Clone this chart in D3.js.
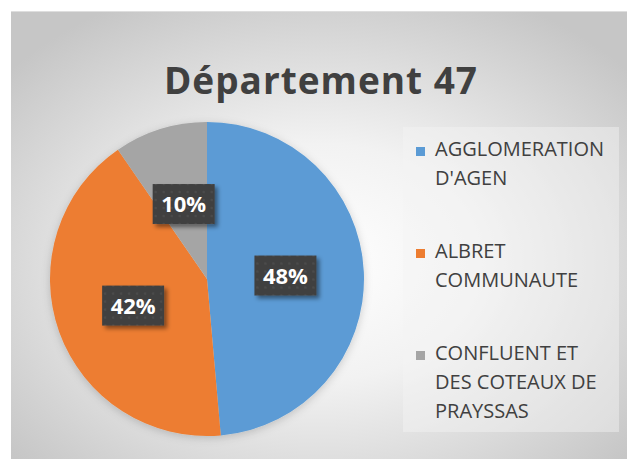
<!DOCTYPE html>
<meta charset="utf-8">
<head>
<style>
  body { margin: 0; background: #fff; }
  svg { display: block; }
</style>
</head>
<body>
<script src="https://d3js.org/d3.v7.min.js"></script>
<script>
// data
var categories = ["AGGLOMERATION D'AGEN", "ALBRET COMMUNAUTE", "CONFLUENT ET DES COTEAUX DE PRAYSSAS"];
var legendLines = [["AGGLOMERATION", "D'AGEN"], ["ALBRET", "COMMUNAUTE"], ["CONFLUENT ET", "DES COTEAUX DE", "PRAYSSAS"]];
var values = [48.6, 41.8, 9.6];
var labels = ["48%", "42%", "10%"];
var colors = ["#5B9BD5", "#ED7D31", "#A5A5A5"];
var title = "Département 47";

var W = 627, H = 459;
var svg = d3.select("body").append("svg").attr("width", W).attr("height", H);
var defs = svg.append("defs");

var bg = defs.append("radialGradient").attr("id", "bg")
  .attr("cx", "50%").attr("cy", "56%").attr("r", "66%");
bg.append("stop").attr("offset", "0%").attr("stop-color", "#ffffff");
bg.append("stop").attr("offset", "40%").attr("stop-color", "#f2f2f2");
bg.append("stop").attr("offset", "100%").attr("stop-color", "#c6c6c6");

var pat = defs.append("pattern").attr("id", "dots")
  .attr("width", 8).attr("height", 8).attr("patternUnits", "userSpaceOnUse");
pat.append("rect").attr("width", 8).attr("height", 8).attr("fill", "#404040");
pat.append("circle").attr("cx", 4).attr("cy", 4).attr("r", 1.3).attr("fill", "#4c4c4c");

var sh = defs.append("filter").attr("id", "shadow").attr("x", "-30%").attr("y", "-30%").attr("width", "160%").attr("height", "160%");
sh.append("feDropShadow").attr("dx", 3).attr("dy", 3).attr("stdDeviation", 2)
  .attr("flood-color", "#000").attr("flood-opacity", 0.45);

var psh = defs.append("filter").attr("id", "pieshadow").attr("x", "-20%").attr("y", "-20%").attr("width", "140%").attr("height", "140%");
psh.append("feDropShadow").attr("dx", 0).attr("dy", 2).attr("stdDeviation", 4)
  .attr("flood-color", "#000").attr("flood-opacity", 0.18);

// chart area
svg.append("rect").attr("x", 11).attr("y", 11).attr("width", W - 11).attr("height", H - 11)
  .attr("fill", "url(#bg)");
svg.append("line").attr("x1", 11).attr("x2", W).attr("y1", 11.5).attr("y2", 11.5)
  .attr("stroke", "#dedede");

var tt = svg.append("text").attr("x", 321).attr("y", 94)
  .attr("text-anchor", "middle")
  .attr("font-family", "'Open Sans', sans-serif")
  .attr("font-weight", "bold")
  .attr("font-size", 37)
  .attr("fill", "#404040")
  .text(title);
// spread the title to the width it has in the picture
var tw = tt.node().getComputedTextLength();
tt.attr("letter-spacing", Math.max(0, (314 - tw) / title.length));

// pie
var cx = 207, cy = 279, r = 157;
var pie = d3.pie().sort(null)(values);
var arc = d3.arc().innerRadius(0).outerRadius(r);
var g = svg.append("g").attr("transform", "translate(" + cx + "," + cy + ")");

g.append("g").attr("filter", "url(#pieshadow)")
  .selectAll("path").data(pie).join("path")
  .attr("d", arc)
  .attr("fill", function(d, i) { return colors[i]; });

var lab = g.selectAll("g.lab").data(pie).join("g").attr("class", "lab")
  .attr("transform", function(d) { var c = arc.centroid(d); return "translate(" + c[0] + "," + c[1] + ")"; });
lab.append("rect")
  .attr("x", -31).attr("y", -20).attr("width", 62).attr("height", 40)
  .attr("fill", "url(#dots)")
  .attr("filter", "url(#shadow)");
lab.append("text")
  .attr("text-anchor", "middle")
  .attr("y", 8)
  .attr("font-family", "'Open Sans', sans-serif")
  .attr("font-weight", "bold")
  .attr("font-size", 22)
  .attr("fill", "#fff")
  .text(function(d, i) { return labels[i]; });

// legend
svg.append("rect").attr("x", 403).attr("y", 127).attr("width", 216).attr("height", 305)
  .attr("fill", "#f4f4f4").attr("fill-opacity", 0.45);

var item = svg.selectAll("g.leg").data(categories).join("g").attr("class", "leg")
  .attr("transform", function(d, i) { return "translate(416," + (156 + i * 102) + ")"; });
item.append("rect").attr("x", 0).attr("y", -9).attr("width", 9).attr("height", 9)
  .attr("fill", function(d, i) { return colors[i]; });
item.each(function(d, i) {
  var t = d3.select(this).append("text")
    .attr("font-family", "'Open Sans', sans-serif")
    .attr("font-size", 20)
    .attr("fill", "#404040");
  legendLines[i].forEach(function(line, j) {
    t.append("tspan").attr("x", 19).attr("y", j * 28.8).text(line);
  });
});
</script>
</body>
